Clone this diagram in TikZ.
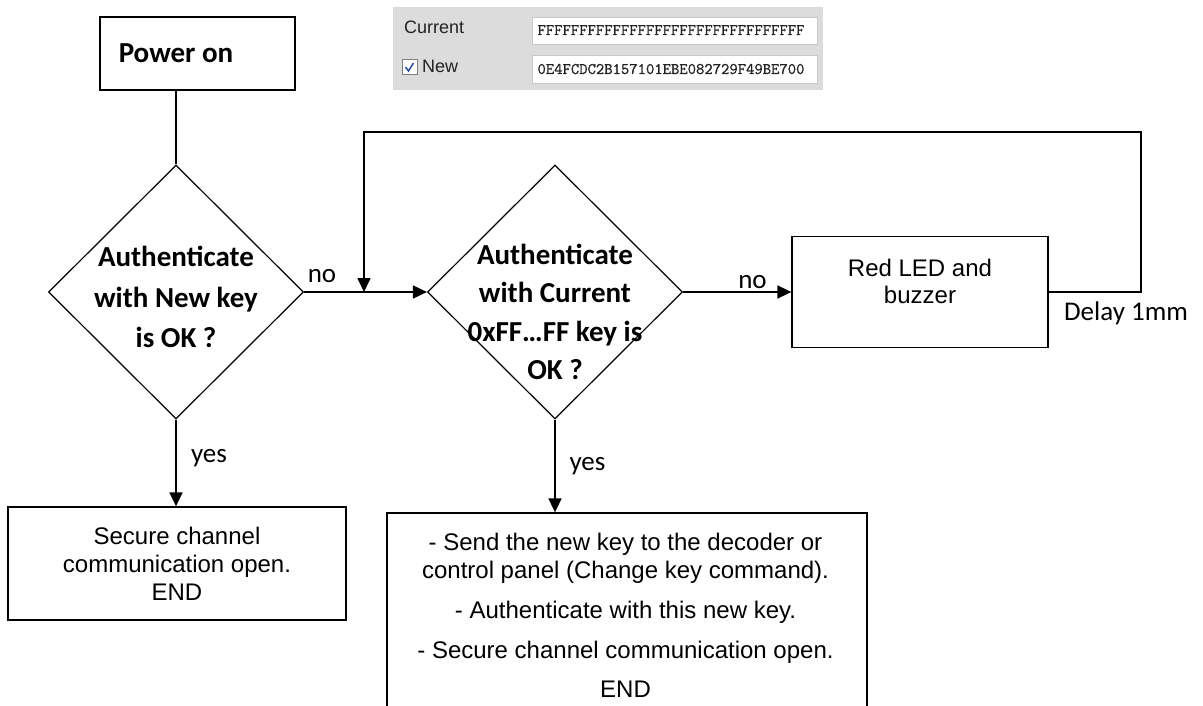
\documentclass[tikz,border=0pt]{standalone}
\usepackage{fontspec}
\setmainfont{Liberation Sans}
\newfontfamily\calibf{Carlito}
\newfontfamily\fieldf{Latin Modern Mono}[FakeBold=0.8]
\usetikzlibrary{shapes.geometric,arrows.meta}
\definecolor{panelgray}{HTML}{DCDCDC}
\definecolor{fieldborder}{HTML}{C8C8C8}
\definecolor{checkblue}{HTML}{2F4F9F}
\definecolor{darktext}{HTML}{222222}
\tikzset{
  conn/.style={line width=1.7pt, black},
  arr/.style={conn, -{Triangle[length=14pt,width=13pt]}},
  box/.style={draw, rectangle, line width=1.3pt, inner sep=0pt},
  dia/.style={draw, diamond, line width=1.2pt, inner sep=0pt, minimum width=255pt, minimum height=254pt},
  dtext/.style={font=\calibf\bfseries\fontsize{29}{40.5}\selectfont, align=center, inner sep=0pt},
  lbl/.style={font=\calibf\fontsize{27}{32}\selectfont, inner sep=0pt},
  atext/.style={align=center, inner sep=0pt},
  field/.style={fill=white, draw=fieldborder, line width=0.6pt, minimum width=285pt, inner sep=0pt},
  fieldtxt/.style={font=\fieldf\fontsize{16.2}{17}\selectfont, text=darktext, inner sep=0pt},
  paneltxt/.style={font=\fontsize{18}{18}\selectfont, text=darktext, inner sep=0pt}
}
\begin{document}
\begin{tikzpicture}[x=1pt,y=-1pt]
\useasboundingbox (0,0) rectangle (1203,706);
\fill[white] (0,0) rectangle (1203,706);
\clip (0,0) rectangle (1203,706);

% screenshot panel
\node[fill=panelgray, minimum width=430pt, minimum height=83pt, inner sep=0pt] (panel) at (608,48.5) {};
\node[field, minimum height=27pt] (f1) at (674.5,30.5) {};
\node[field, minimum height=28pt] (f2) at (674.5,69) {};
\node[fieldtxt, anchor=base] (f1t) at (671,35) {FFFFFFFFFFFFFFFFFFFFFFFFFFFFFFFF};
\node[fieldtxt, anchor=base] (f2t) at (671,74) {0E4FCDC2B157101EBE082729F49BE700};
\node[paneltxt, anchor=base west] (cur) at (404,34) {Current};
\node[draw=gray, fill=white, line width=0.8pt, minimum width=15pt, minimum height=15pt, inner sep=0pt] (cb) at (409.5,67) {};
\draw[checkblue, line width=1.5pt] ([shift={(-4,0)}]cb.center) -- ([shift={(-1,4)}]cb.center) -- ([shift={(4,-4)}]cb.center);
\node[paneltxt, anchor=base west] (new) at (422,73) {New};

% power on
\node[box, minimum width=195pt, minimum height=73pt] (pw) at (197.5,53.5) {};
\node[dtext] (pwt) at (176,53) {Power on};

% diamonds
\node[dia] (d1) at (176,292) {};
\node[dtext] (d1t) at (176,297) {Authenticate\\with New key\\is OK ?};
\node[dia] (d2) at (555,292) {};
\node[dtext, font=\calibf\bfseries\fontsize{29}{38.5}\selectfont] (d2t) at (555,312) {Authenticate\\with Current\\0xFF…FF key is\\OK ?};

% red box
\node[box, minimum width=256pt, minimum height=111pt] (rb) at (920,292) {};
\node[atext, font=\fontsize{24}{27}\selectfont] (rbt) at (920,281) {Red LED and\\buzzer};

% end boxes
\node[box, atext, font=\fontsize{24}{28}\selectfont, minimum width=338pt, minimum height=113pt] (s1) at (177,563.5) {Secure channel\\communication open.\\END};
\node[box, minimum width=480pt, minimum height=240pt] (s2) at (627,633) {};
\node[atext, font=\fontsize{24}{28}\selectfont, anchor=north] (s2t) at (625.5,532.5) {- Send the new key to the decoder or\\control panel (Change key command).\\[12pt]- Authenticate with this new key.\\[12pt]- Secure channel communication open.\\[11pt]END};

% connectors
\draw[conn] (pwt |- pw.south) -- (d1.north);
\coordinate (j) at (364,292);
\coordinate (lr) at (1141,132);
\coordinate (ll) at (364,132);
\draw[arr] (d1.east) -- (d2.west);
\draw[arr] (rb.east) -| (lr) -- (ll) -- (j);
\draw[arr] (d2.east) -- (rb.west);
\draw[arr] (d1.south) -- (d1.south |- s1.north);
\draw[arr] (d2.south) -- (d2.south |- s2.north);

% labels
\node[lbl, anchor=base] (no1) at (322,282) {no};
\node[lbl, anchor=base] (no2) at (752.5,288) {no};
\node[lbl, anchor=base] (yes1) at (209,462) {yes};
\node[lbl, anchor=base] (yes2) at (587.5,470) {yes};
\node[lbl, anchor=base] (dl) at (1126,320) {Delay 1mm};
\end{tikzpicture}
\end{document}
